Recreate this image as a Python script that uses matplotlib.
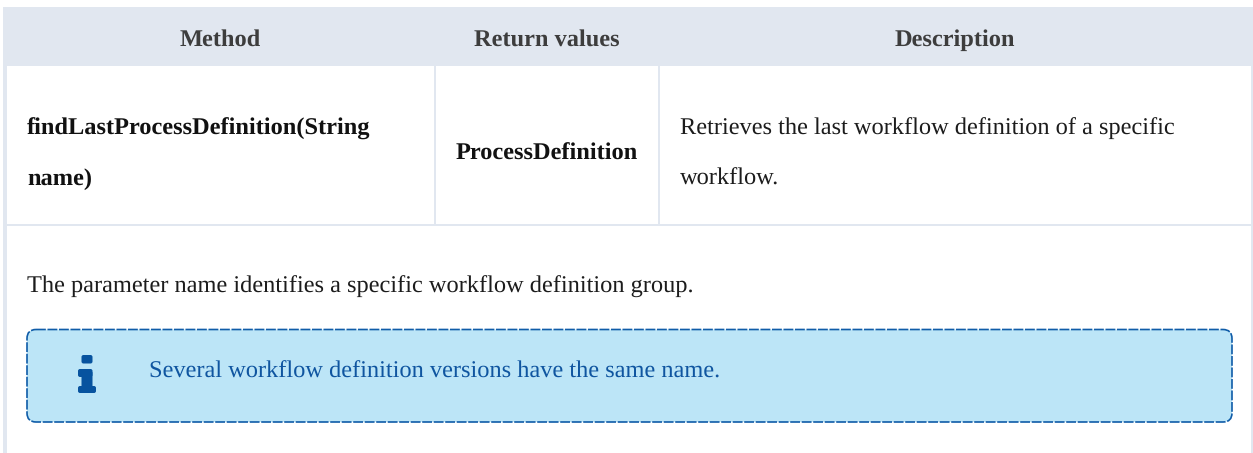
import matplotlib
matplotlib.use("Agg")
import matplotlib.pyplot as plt
from matplotlib.patches import FancyBboxPatch, Rectangle

plt.rcParams['font.family'] = ['Liberation Serif', 'DejaVu Serif']
plt.rcParams['text.hinting'] = 'no_hinting'
plt.rcParams['text.hinting_factor'] = 8

# table contents
headers = ["Method", "Return values", "Description"]
method_lines = ["findLastProcessDefinition(String", "name)"]
return_value = "ProcessDefinition"
description_lines = ["Retrieves the last workflow definition of a specific", "workflow."]
param_note = "The parameter name identifies a specific workflow definition group."
info_note = "Several workflow definition versions have the same name."

BORDER = "#e1e7f0"
HEADER_TEXT = "#3d3d3d"
BODY_TEXT = "#1c1c1c"
INFO_FILL = "#bce5f7"
INFO_EDGE = "#0f5ca8"
INFO_TEXT = "#0f55a0"
FONT_SIZE = 17.6

W, H = 1253, 453
fig = plt.figure(figsize=(W / 100, H / 100), dpi=100)
ax = fig.add_axes([0, 0, 1, 1])
ax.set_xlim(0, W)
ax.set_ylim(H, 0)
ax.axis("off")


def block(x0, y0, x1, y1, color=BORDER):
    ax.add_patch(Rectangle((x0, y0), x1 - x0, y1 - y0, fc=color, ec="none", lw=0))


# header band and cell borders
block(3, 7, 1253, 66)
block(3, 66, 7, 453)
block(1251, 66, 1253, 453)
block(434, 66, 436, 224)
block(658, 66, 660, 224)
block(3, 224, 1253, 226)

# header row
for label, cx in zip(headers, [220, 546.5, 955]):
    ax.text(cx, 46, label, ha="center", va="baseline", fontsize=FONT_SIZE,
            fontweight="bold", color=HEADER_TEXT)

# first row
for line, y in zip(method_lines, [135, 185]):
    ax.text(27, y, line, ha="left", va="baseline", fontsize=FONT_SIZE,
            fontweight="bold", color="#111111")
ax.text(546.5, 160, return_value, ha="center", va="baseline", fontsize=FONT_SIZE,
        fontweight="bold", color="#111111")
for line, y in zip(description_lines, [135, 185]):
    ax.text(680, y, line, ha="left", va="baseline", fontsize=FONT_SIZE, color=BODY_TEXT)

# second row
ax.text(27, 293, param_note, ha="left", va="baseline", fontsize=FONT_SIZE, color=BODY_TEXT)

# info callout
ax.add_patch(FancyBboxPatch((27, 329.5), 1205, 92.5, boxstyle="round,pad=0,rounding_size=9",
                            fc=INFO_FILL, ec=INFO_EDGE, lw=1.2, ls=(0, (5.9, 1.0))))
ax.text(149, 378, info_note, ha="left", va="baseline", fontsize=FONT_SIZE, color=INFO_TEXT)


# "i" icon
def rounded(x, y, w, h, r=2):
    ax.add_patch(FancyBboxPatch((x, y), w, h, boxstyle=f"round,pad=0,rounding_size={r}",
                                fc="#07539f", ec="none", lw=0))


rounded(81.5, 355, 11, 8.5)
rounded(78, 369, 14.5, 8)
rounded(81.5, 372, 11, 16, r=0.5)
rounded(78, 386, 18, 7)

fig.savefig("out.png", dpi=100)
